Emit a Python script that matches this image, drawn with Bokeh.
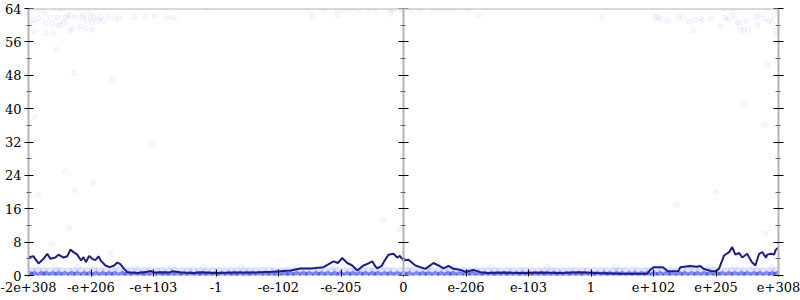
from bokeh.plotting import figure
from bokeh.models import Range1d, FixedTicker, LinearAxis, Span
from bokeh.embed import file_html
from bokeh.resources import INLINE

# x positions are ordinal slots of the float inputs: -6 .. 6
x_tick_pos = [-6, -5, -4, -3, -2, -1, 0, 1, 2, 3, 4, 5, 6]
x_tick_labels = ["-2e+308", "-e+206", "-e+103", "-1", "-e-102", "-e-205", "0",
                 "e-206", "e-103", "1", "e+102", "e+205", "e+308"]
y_major = [0, 8, 16, 24, 32, 40, 48, 56, 64]
y_minor = [4, 12, 20, 28, 36, 44, 52, 60]

# sparse samples (x slot, value)
sparse_x = [-5.94, -5.92, -5.90, -5.84, -5.74, -5.73, -5.72, -5.65, -5.62, -5.60, -5.55, -5.54,
            -5.52, -5.49, -5.46, -5.43, -5.41, -5.38, -5.34, -5.33, -5.30, -5.27, -5.25, -5.22,
            -5.18, -5.14, -5.12, -5.09, -5.06, -5.01, -4.98, -4.98, -4.96, -4.88, -4.85, -4.80,
            -4.72, -4.66, -4.61, -4.55, -4.31, -4.13, -3.98, -3.78, -3.67, -5.80, -5.55, -5.05,
            -5.90, -4.04, -5.42, -4.97, -5.26, -5.84, -5.35, -5.63, -4.69, -0.32, -0.06,
            4.37, 5.79, 5.80, 5.46, 5.78, 5.01,
            3.18, 4.03, 4.06, 4.11, 4.22, 4.39, 4.47, 4.57, 4.63, 4.67, 4.75, 4.79, 4.91, 5.07,
            5.13, 5.15, 5.18, 5.26, 5.28, 5.34, 5.37, 5.39, 5.44, 5.48, 5.52, 5.63, 5.66, 5.70,
            5.77, 5.81, 5.85, 5.90, 5.93, 5.96, 5.97, 5.82,
            -1.49, -1.28, -1.06, -0.96, -0.85, -0.72, -0.58, -0.45, -0.21, -0.16, -0.05, 0.11,
            0.27, 0.48, 0.59, 0.70, 0.80, 1.02, -1.46, -1.06, -0.21, 1.20, -3.16]
sparse_y = [61.3, 60.4, 58.5, 61.6, 62.8, 60.5, 58.2, 61.8, 60.4, 58.0, 54.1, 61.9,
            60.0, 60.0, 63.9, 60.7, 61.9, 62.4, 58.8, 62.4, 59.2, 48.5, 61.9, 63.9,
            59.7, 61.8, 62.4, 59.2, 61.2, 62.4, 60.7, 58.9, 61.8, 61.2, 61.9, 61.0,
            62.1, 46.9, 61.8, 61.6, 61.9, 62.1, 62.2, 61.8, 61.8, 63.8, 63.8, 63.6,
            38.0, 31.6, 25.0, 22.1, 20.5, 19.3, 11.3, 7.5, 5.4, 13.2, 11.1,
            16.8, 10.0, 3.6, 41.0, 36.0, 20.0,
            61.8, 61.9, 61.9, 61.6, 60.9, 62.2, 61.9, 60.8, 58.8, 61.2, 61.6, 61.2, 61.6, 59.7,
            63.9, 61.9, 61.4, 63.9, 62.4, 60.7, 60.3, 58.9, 58.8, 61.0, 58.9, 61.9, 60.1, 62.6,
            61.6, 63.9, 61.0, 60.8, 62.4, 58.8, 57.6, 50.5,
            63.8, 63.8, 63.8, 63.8, 63.8, 63.8, 63.8, 63.8, 63.8, 63.8, 63.8, 63.8,
            63.8, 63.8, 63.8, 63.8, 63.8, 63.8, 62.2, 62.4, 62.8, 62.4, 63.8]

# dense samples at value 0
zero_x = [-5.98, -5.91, -5.79, -5.72, -5.61, -5.52, -5.42, -5.31, -5.22, -5.11, -5.02, -4.92,
          -4.81, -4.71, -4.62, -4.50, -4.41, -4.31, -4.20, -4.12, -4.01, -3.90, -3.81, -3.72,
          -3.61, -3.52, -3.41, -3.30, -3.21, -3.12, -3.01, -2.91, -2.80, -2.71, -2.62, -2.51,
          -2.42, -2.31, -2.20, -2.11, -2.01, -1.90, -1.81, -1.71, -1.60, -1.51, -1.40, -1.31,
          -1.21, -1.10, -1.01, -0.90, -0.81, -0.70, -0.61, -0.50, -0.41, -0.30, -0.21, -0.10,
          0.00, 0.09, 0.21, 0.31, 0.40, 0.51, 0.60, 0.71, 0.79, 0.90, 1.01, 1.10, 1.21, 1.30,
          1.41, 1.50, 1.61, 1.70, 1.81, 1.90, 2.01, 2.10, 2.21, 2.30, 2.41, 2.50, 2.61, 2.70,
          2.81, 2.90, 3.01, 3.10, 3.21, 3.30, 3.41, 3.50, 3.61, 3.70, 3.81, 3.90, 4.01, 4.10,
          4.21, 4.30, 4.41, 4.50, 4.61, 4.70, 4.81, 4.90, 5.01, 5.10, 5.21, 5.30, 5.41, 5.50,
          5.61, 5.70, 5.81, 5.90, 5.98]
# dense samples at value 1 and 2
one_x = [-5.95, -5.85, -5.76, -5.66, -5.55, -5.47, -5.36, -5.27, -5.16, -5.06, -4.96, -4.86,
         -4.76, -4.66, -4.55, -4.45, -4.36, -4.25, -4.15, -4.06, -3.95, -3.86, -3.76, -3.66,
         -3.55, -3.45, -3.36, -3.26, -3.15, -3.05, -2.96, -2.85, -2.75, -2.66, -2.55, -2.46,
         -2.36, -2.25, -2.15, -2.06, -1.95, -1.86, -1.75, -1.65, -1.56, -1.45, -1.36, -1.26,
         -1.15, -1.06, -0.95, -0.85, -0.76, -0.65, -0.55, -0.46, -0.36, -0.25, -0.16, -0.05,
         0.05, 0.15, 0.26, 0.35, 0.45, 0.56, 0.66, 0.75, 0.85, 0.96, 1.05, 1.16, 1.25, 1.35,
         1.46, 1.55, 1.66, 1.75, 1.86, 1.95, 2.05, 2.16, 2.25, 2.36, 2.45, 2.55, 2.66, 2.75,
         2.86, 2.95, 3.05, 3.16, 3.25, 3.36, 3.45, 3.55, 3.66, 3.75, 3.86, 3.95, 4.05, 4.16,
         4.25, 4.36, 4.45, 4.55, 4.66, 4.75, 4.86, 4.95, 5.05, 5.16, 5.25, 5.36, 5.45, 5.55,
         5.66, 5.75, 5.86, 5.95]
two_x = [-5.88, -5.58, -5.21, -4.95, -4.60, -4.30, -3.70, -3.20, -2.60, -1.70, -1.10, -0.70,
         -0.30, 0.10, 0.40, 0.80, 1.40, 2.30, 3.40, 4.10, 4.60, 4.90, 5.30, 5.60, 5.90]

# moving average
avg_x = [-6.00, -5.92, -5.84, -5.76, -5.70, -5.65, -5.57, -5.52, -5.44, -5.38, -5.33, -5.28,
         -5.22, -5.16, -5.12, -5.08, -5.03, -4.98, -4.93, -4.88, -4.84, -4.77, -4.70, -4.63,
         -4.58, -4.53, -4.47, -4.42, -4.35, -4.25, -4.10, -4.05, -3.98, -3.85, -3.75, -3.70,
         -3.55, -3.35, -3.25, -3.00, -2.70, -2.40, -2.10, -1.80, -1.65, -1.48, -1.28, -1.12,
         -1.05, -0.98, -0.90, -0.82, -0.74, -0.64, -0.56, -0.50, -0.46, -0.42, -0.35, -0.32,
         -0.24, -0.16, -0.10, -0.06, 0.00, 0.08, 0.19, 0.35, 0.48, 0.56, 0.64, 0.72, 0.80,
         0.90, 0.99, 1.12, 1.23, 1.34, 1.60, 1.90, 2.20, 2.50, 2.80, 3.10, 3.50, 3.90, 3.95,
         4.00, 4.15, 4.23, 4.40, 4.43, 4.58, 4.69, 4.75, 4.80, 4.91, 5.00, 5.05, 5.13, 5.21,
         5.26, 5.31, 5.37, 5.42, 5.50, 5.55, 5.58, 5.63, 5.69, 5.74, 5.80, 5.82, 5.88, 5.93,
         5.95, 5.98, 6.00]
avg_y = [4.4, 4.6, 2.9, 4.0, 5.2, 4.0, 4.3, 5.0, 4.3, 4.6, 6.2, 5.6,
         5.0, 3.6, 4.4, 3.2, 4.7, 4.0, 3.7, 4.6, 3.5, 2.4, 2.0, 2.4,
         3.1, 2.7, 1.6, 0.8, 0.7, 0.6, 0.9, 1.1, 0.7, 0.8, 0.7, 1.0,
         0.7, 0.6, 0.8, 0.6, 0.7, 0.7, 0.9, 1.2, 1.7, 1.7, 2.0, 3.4,
         3.0, 4.2, 3.0, 2.4, 1.2, 2.4, 2.9, 3.4, 2.4, 1.7, 2.3, 3.1,
         5.0, 5.2, 4.3, 4.7, 3.6, 3.8, 2.4, 1.6, 3.0, 2.4, 1.7, 2.3, 1.6,
         1.4, 0.9, 1.3, 0.8, 0.6, 0.7, 0.6, 0.7, 0.6, 0.8, 0.6, 0.4, 0.4, 1.4,
         2.0, 2.0, 1.0, 1.1, 2.0, 2.3, 2.1, 2.3, 1.6, 1.1, 1.0, 1.7, 4.8, 5.6,
         6.8, 5.0, 5.4, 4.3, 5.2, 3.8, 3.1, 2.4, 5.2, 5.6, 4.3, 5.0, 5.2, 5.0,
         6.0, 6.5, 6.6]

AXIS_GRAY = "#b4b4b4"
FONT = "DejaVu Serif"

p = figure(width=800, height=300, output_backend="svg", toolbar_location=None,
           x_range=Range1d(-6, 6), y_range=Range1d(0, 64),
           min_border_left=28, min_border_right=22, min_border_top=8, min_border_bottom=25)
p.outline_line_color = None
p.xgrid.visible = False
p.ygrid.visible = False
p.background_fill_color = "white"
p.border_fill_color = "white"

# x axis
xa = p.xaxis[0]
xa.ticker = FixedTicker(ticks=x_tick_pos, minor_ticks=[])
xa.major_label_overrides = {k: v for k, v in zip(x_tick_pos, x_tick_labels)}
xa.axis_line_color = None
xa.major_tick_line_color = "black"
xa.major_tick_in = 6
xa.major_tick_out = 1
xa.minor_tick_line_color = None
xa.major_label_standoff = 5
xa.major_label_text_font = FONT
xa.major_label_text_font_size = "13px"
xa.major_label_text_color = "black"


def style_y(ax, labels, tin, tout):
    ax.ticker = FixedTicker(ticks=y_major, minor_ticks=y_minor)
    ax.axis_line_color = AXIS_GRAY
    ax.axis_line_width = 2
    ax.major_tick_line_color = "black"
    ax.major_tick_line_width = 1
    ax.major_tick_in = tin
    ax.major_tick_out = tout
    ax.minor_tick_line_color = "#666666"
    ax.minor_tick_in = 3
    ax.minor_tick_out = 2
    if labels:
        ax.major_label_text_font = FONT
        ax.major_label_text_font_size = "13px"
        ax.major_label_text_color = "black"
        ax.major_label_standoff = 3
    else:
        ax.major_label_text_font_size = "0px"
        ax.major_label_text_color = None
        ax.major_label_standoff = 0


style_y(p.yaxis[0], True, 5, 4)

ra = LinearAxis()
style_y(ra, False, 5, 5)
p.add_layout(ra, "right")

ca = LinearAxis(fixed_location=0)
style_y(ca, False, 5, 5)
p.add_layout(ca, "right")

p.add_layout(Span(location=64, dimension="width", line_color=AXIS_GRAY, line_width=2))

# samples
p.scatter(x=one_x, y=[1] * len(one_x), size=8, fill_color="#3848ff", fill_alpha=0.14,
          line_color="#3848ff", line_alpha=0.06)
p.scatter(x=two_x, y=[2] * len(two_x), size=6, fill_color="#3848ff", fill_alpha=0.05,
          line_color="#3848ff", line_alpha=0.05)
p.scatter(x=zero_x, y=[0] * len(zero_x), size=8, fill_color="#2a3ce8", fill_alpha=0.5,
          line_color="#2a3ce8", line_alpha=0.3)
p.scatter(x=sparse_x, y=sparse_y, size=5, fill_color="#4848ff", fill_alpha=0.03,
          line_color="#4848ff", line_alpha=0.08)

p.line(x=avg_x, y=avg_y, line_color="#1d1d8a", line_width=2)

open("out.html", "w").write(file_html(p, INLINE))
